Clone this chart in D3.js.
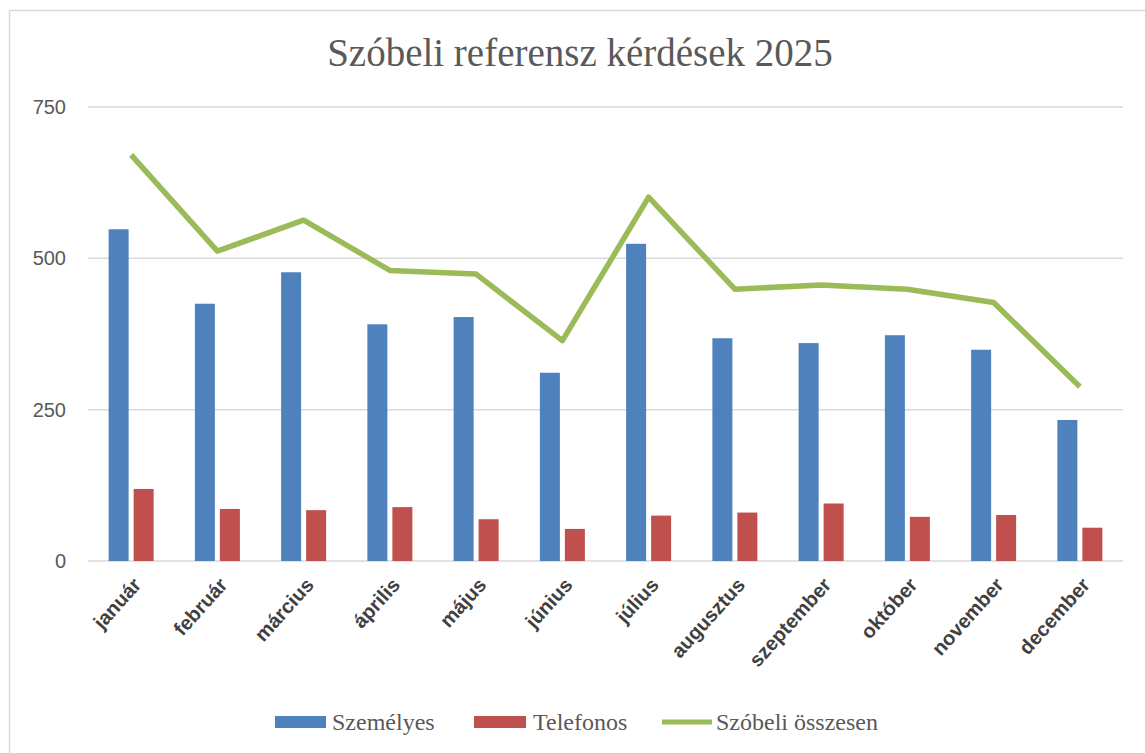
<html>
<style>
    body { margin: 0; background: #ffffff; }
    svg { display: block; }
</style>
<script src="https://d3js.org/d3.v7.min.js"></script>
<body>
<svg id="chart"></svg>
</body>
<script>
// data
let months = ["január", "február", "március", "április", "május", "június",
              "július", "augusztus", "szeptember", "október", "november", "december"]
let szemelyes = [548, 425, 477, 391, 403, 311, 524, 368, 360, 373, 349, 233]
let telefonos = [119, 86, 84, 89, 69, 53, 75, 80, 95, 73, 76, 55]
let osszesen = [671, 512, 563, 480, 474, 364, 601, 449, 456, 449, 427, 288]
let yTicks = [0, 250, 500, 750]
let seriesNames = ["Személyes", "Telefonos", "Szóbeli összesen"]

let colors = {blue: "#4F81BD", red: "#C0504D", green: "#9BBB59"}
let width = 1145, height = 753

let svg = d3.select("#chart").attr("width", width).attr("height", height)

// outer chart border
svg.append("rect")
    .attr("x", 9.5).attr("y", 10.5)
    .attr("width", width + 10).attr("height", height + 10)
    .attr("fill", "#ffffff").attr("stroke", "#d9d9d9").attr("stroke-width", 1.5)

svg.append("text")
    .attr("x", 580).attr("y", 66)
    .attr("text-anchor", "middle")
    .style("font-family", "'Liberation Serif', 'DejaVu Serif', serif")
    .style("font-size", "39px")
    .attr("fill", "#595959")
    .text("Szóbeli referensz kérdések 2025")

let x = d3.scaleBand().domain(months).range([88, 1123]).padding(0)
let inner = d3.scaleBand().domain(["szem", "tel"]).range([-22.5, 22.5]).paddingInner(0.2)
let y = d3.scaleLinear().domain([0, 750]).range([561, 107])

// gridlines
svg.append("g").selectAll("line").data(yTicks).enter().append("line")
    .attr("x1", 88).attr("x2", 1123)
    .attr("y1", d => y(d)).attr("y2", d => y(d))
    .attr("stroke", "#d9d9d9").attr("stroke-width", 1.5)

// y axis labels
svg.append("g").selectAll("text").data(yTicks).enter().append("text")
    .attr("x", 66).attr("y", d => y(d))
    .attr("dy", "0.35em")
    .attr("text-anchor", "end")
    .style("font-family", "'Liberation Sans', Arial, sans-serif")
    .style("font-size", "20px")
    .attr("fill", "#595959")
    .text(d => d)

let cx = d => x(d) + x.bandwidth() / 2

// bars
svg.append("g").selectAll("rect").data(months).enter().append("rect")
    .attr("x", (d, i) => cx(d) + inner("szem"))
    .attr("width", inner.bandwidth())
    .attr("y", (d, i) => y(szemelyes[i]))
    .attr("height", (d, i) => y(0) - y(szemelyes[i]))
    .attr("fill", colors.blue)

svg.append("g").selectAll("rect").data(months).enter().append("rect")
    .attr("x", (d, i) => cx(d) + inner("tel"))
    .attr("width", inner.bandwidth())
    .attr("y", (d, i) => y(telefonos[i]))
    .attr("height", (d, i) => y(0) - y(telefonos[i]))
    .attr("fill", colors.red)

// total line
let line = d3.line()
    .x((d, i) => cx(months[i]))
    .y(d => y(d))
svg.append("path")
    .datum(osszesen)
    .attr("d", line)
    .attr("fill", "none")
    .attr("stroke", colors.green)
    .attr("stroke-width", 5.5)
    .attr("stroke-linejoin", "round")

// month labels
svg.append("g").selectAll("text").data(months).enter().append("text")
    .attr("transform", d => "translate(" + (cx(d) + 6) + ",581) rotate(-48)")
    .attr("text-anchor", "end")
    .attr("dy", "0.35em")
    .style("font-family", "'Liberation Sans', Arial, sans-serif")
    .style("font-weight", "bold")
    .style("font-size", "20px")
    .attr("fill", "#404040")
    .text(d => d)

// legend
let legend = svg.append("g")
let legendFont = "'Liberation Serif', 'DejaVu Serif', serif"
legend.append("rect").attr("x", 275).attr("y", 716).attr("width", 51).attr("height", 12).attr("fill", colors.blue)
legend.append("rect").attr("x", 474).attr("y", 716).attr("width", 52).attr("height", 12).attr("fill", colors.red)
legend.append("line").attr("x1", 662).attr("x2", 712).attr("y1", 722).attr("y2", 722)
    .attr("stroke", colors.green).attr("stroke-width", 5)
let legendX = [332, 533, 716]
legend.selectAll("text").data(seriesNames).enter().append("text")
    .attr("x", (d, i) => legendX[i]).attr("y", 722)
    .attr("dy", "0.35em")
    .style("font-family", legendFont)
    .style("font-size", "24px")
    .attr("fill", "#595959")
    .text(d => d)
</script>
</html>
